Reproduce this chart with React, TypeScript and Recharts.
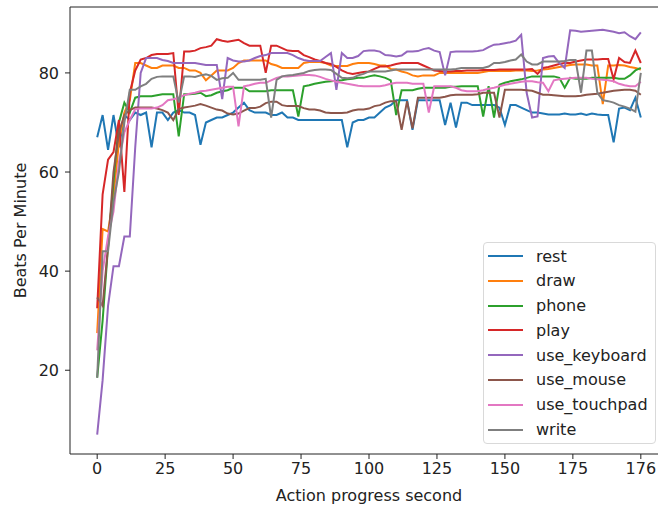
import { LineChart, Line, XAxis, YAxis, Legend, ReferenceLine } from "recharts";

// sampled every 2 seconds (axis position), last tick is labelled 176
const seconds = [
  0, 2, 4, 6, 8, 10, 12, 14, 16, 18,
  20, 22, 24, 26, 28, 30, 32, 34, 36, 38,
  40, 42, 44, 46, 48, 50, 52, 54, 56, 58,
  60, 62, 64, 66, 68, 70, 72, 74, 76, 78,
  80, 82, 84, 86, 88, 90, 92, 94, 96, 98,
  100, 102, 104, 106, 108, 110, 112, 114, 116, 118,
  120, 122, 124, 126, 128, 130, 132, 134, 136, 138,
  140, 142, 144, 146, 148, 150, 152, 154, 156, 158,
  160, 162, 164, 166, 168, 170, 172, 174, 176, 178,
  180, 182, 184, 186, 188, 190, 192, 194, 196, 198,
  200,
];

const rest = [
  67, 71.5, 64.5, 71.5, 65, 71.5, 70.5, 72, 71.5, 72,
  65, 72, 72, 70.5, 72, 72.5, 72, 72, 71.5, 65.5,
  70, 70.5, 71, 71, 71.5, 72, 73, 74, 72.5, 72,
  72, 72, 71.5, 71.5, 72, 71, 71, 70.5, 70.5, 70.5,
  70.5, 70.5, 70.5, 70.5, 70.5, 70.5, 65, 70, 70.5, 70.5,
  71, 71, 72, 73, 73.5, 74.5, 74.5, 74.5, 68.5, 74.5,
  74.5, 74.5, 74.5, 74.5, 69.5, 74, 69, 74, 74, 73.5,
  73.5, 73.5, 73.5, 73.5, 73, 69.5, 73.5, 73.5, 73, 72.5,
  72, 72, 71.8, 71.6, 71.6, 71.6, 71.8, 71.6, 71.6, 71.8,
  71.5, 71.8, 71.6, 71.5, 71.5, 66, 72.8, 73, 72.5, 75,
  71,
];

const draw = [
  27.5, 48.5, 48, 55, 66, 72, 74.5, 82, 82, 81.5,
  81, 81, 81.5, 81.5, 81.5, 81, 81, 80.5, 80.5, 80,
  78.5, 79.5, 80.5, 80.5, 80.5, 81, 82, 82.5, 82.5, 82.5,
  82.5, 82.5, 81.8, 81.5, 81, 81, 81, 81, 82, 82.2,
  82.2, 82.2, 82, 81.5, 81.4, 81.4, 81.4, 81.8, 82, 82,
  82, 81.8, 81.5, 81.5, 80.8, 80.7, 80.3, 80, 79.5, 79.3,
  79.5, 79.5, 79.5, 80, 80, 80, 80, 80, 80, 80,
  80, 80.2, 80.4, 80.4, 80.4, 80.4, 80.4, 80.5, 80.5, 80.5,
  80.4, 80.5, 80.7, 80.8, 81, 81.2, 81.4, 81.6, 81.7, 81.7,
  81.7, 81.5, 81.5, 73.7, 81.5, 81.5, 81.6, 81.5, 81.2, 81,
  80.7,
];

const phone = [
  18.5, 30, 45, 58, 70, 74, 72, 75, 75.3, 75.3,
  75.3, 75.5, 75.7, 75.7, 75.7, 67.2, 75.7, 75.7, 75.8, 76,
  75.3, 75.5, 76, 76.3, 76.5, 77, 77, 77, 76.3, 76.3,
  76.3, 76.3, 76.5, 76.5, 76.5, 76.5, 76.5, 71.2, 77.3, 77.5,
  77.8, 78, 78.2, 78.3, 78.4, 78.5, 78.7, 78.8, 79, 79,
  79.3, 79.5, 79.3, 79, 78.5, 71.5, 76.5, 76.5, 76.5, 76.8,
  77, 77, 77, 77, 77, 77.2, 77.2, 77.3, 77.3, 77.3,
  77.3, 71.2, 77.3, 71, 77.6, 78, 78.3, 78.5, 78.7, 79,
  79.3, 79.3, 79.3, 79.3, 79.3, 79, 77, 79, 78.8, 78.8,
  78.8, 79, 79, 79, 79, 79, 78.8, 78.8, 79.5, 80.5,
  81,
];

const play = [
  32.5, 55.5, 62.5, 64, 70.5, 56, 76, 80.5, 82.7, 83,
  83.6, 83.8, 83.8, 83.8, 84, 71.5, 84.3, 84.3, 84.5, 85,
  85.2, 85.5, 86.8, 86.5, 86.3, 86.5, 86.7, 86, 85.5, 85.5,
  85.5, 80, 85.5, 85.5, 85, 84.5, 84.4, 84.4, 83.6, 83.2,
  82.7, 82.4, 82, 81.8, 81.2, 80.5, 80, 79.8, 80, 80.2,
  80.3, 80.8, 81.3, 81.3, 81.5, 81.8, 82, 82, 82, 82,
  81.5, 81, 80.5, 80.4, 80.3, 80.3, 80.4, 80.4, 80.5, 80.5,
  80.5, 80.6, 80.6, 80.6, 80.7, 80.7, 80.7, 80.7, 80.7, 80.7,
  80.8, 79.8, 81, 81.2, 81.5, 81.8, 82, 82, 82.3, 82.5,
  82.7, 82.7, 82.7, 82.8, 82.8, 78.7, 83, 82.2, 82, 84.5,
  82,
];

const useKeyboard = [
  7, 18, 33, 41, 41, 47, 47, 65, 80, 83,
  83, 83, 82.6, 82.4, 82, 82, 82, 82, 82, 81.8,
  81.6, 81.6, 81.6, 74.7, 83, 82.5, 82.3, 82.3, 82.5, 83,
  83.4, 83.6, 84, 84, 84, 84, 83.6, 83, 82.6, 82.4,
  82.4, 82.4, 83.2, 84, 76.6, 84, 83, 83, 83.4, 84.4,
  84.5, 84.5, 84.3, 83.6, 83.5, 83.3, 83.5, 84.3, 84.3, 84.4,
  84.8, 85, 84.5, 84.2, 79.5, 84.2, 84.3, 84.3, 84.3, 84.3,
  84.4, 84.6, 85.2, 85.7, 85.8, 86, 86.2, 86.5, 87.7, 76,
  71, 71.2, 83, 83.3, 83.4, 82, 81, 88.6, 88.5, 88.3,
  88.4, 88.5, 88.6, 88.7, 88.5, 88.3, 88, 88.2, 87.4, 86.8,
  88.2,
];

const useMouse = [
  34.7, 33, 45, 60, 68, 71.5, 72.5, 73, 73, 73,
  73, 72.8, 72.5, 72, 70.5, 72.7, 73, 73.2, 73.4, 73.7,
  73.4, 73, 72.6, 72.4, 71.8, 71.6, 71.8, 72.4, 72.9, 72.9,
  73.2, 73.9, 74.2, 74.2, 73.5, 73.3, 73.3, 73.3, 72.9, 72.6,
  72.6, 72.4, 72, 71.9, 71.9, 71.9, 72, 72.4, 72.6, 72.6,
  72.8, 73.3, 73.5, 74, 74.3, 74.3, 68.5, 74.3, 68.8, 75,
  75, 75, 75, 75, 75.2, 75.5, 75.6, 75.6, 75.6, 75.6,
  75.7, 76, 76, 76, 71, 76.6, 76.6, 76.6, 76.6, 76.5,
  76.4, 76, 75.6, 75.6, 75.5, 75.4, 75.3, 75.3, 75.3, 75.4,
  75.6, 75.7, 75.8, 76, 76.2, 76.4, 76.5, 76.6, 76.6, 76.4,
  75.6,
];

const useTouchpad = [
  24, 40, 47, 52, 62, 68, 70.5, 72.7, 72.8, 72.8,
  72.8, 73, 73.5, 74.5, 74.7, 75, 75.5, 75.8, 76, 76.3,
  76.4, 76.6, 76.8, 77, 77.2, 77.2, 69.2, 77.3, 77.5, 77.8,
  78, 78, 78.5, 79, 79.3, 79.3, 79.4, 79.5, 79.6, 79.6,
  79.5, 79.2, 78.8, 78.5, 78.2, 78, 77.8, 77.6, 77.4, 77.3,
  77.3, 77.3, 77.3, 77.5, 77.8, 78, 78, 78, 77.8, 77.8,
  77.8, 72, 77.3, 77.3, 77.3, 77.3, 77, 76.5, 76.3, 76.3,
  76.3, 76.5, 76.8, 77, 77.3, 77.6, 77.8, 78, 78.2, 78.3,
  78.3, 78.1, 78, 76.3, 78.5, 78.7, 78.8, 78.9, 79, 79,
  79, 78.8, 78.7, 78.6, 78.5, 78.3, 77.8, 77.5, 77.3, 77.3,
  78.2,
];

const write = [
  18.5, 44, 44, 54, 60, 70, 76.6, 76.6, 77.3, 77.8,
  78.8, 79.2, 79.3, 79.3, 79.3, 74, 79.3, 79.3, 79.2, 79.5,
  79.7, 79.4, 78.6, 78.9, 79, 80, 78.6, 78.6, 78.6, 78.6,
  78.6, 78.8, 71, 78.6, 79.3, 79.5, 79.6, 79.8, 80, 80.4,
  80.6, 80.7, 80.7, 80.6, 79.8, 79, 78.9, 79, 79.5, 79.8,
  80.3, 80.3, 80.3, 80.3, 80.5, 80.7, 80.7, 80.7, 80.7, 80.7,
  80.7, 80.7, 80.7, 80.7, 80.7, 80.7, 80.8, 81, 81, 81,
  81, 81, 81.3, 82, 82, 82.2, 82.5, 82.7, 83.7, 82.3,
  81.7, 81.7, 82.3, 82.3, 82.3, 82.3, 82.4, 82.6, 82.6, 76,
  84.5, 84.5, 76, 74.5, 74.3, 74, 73.5, 73.2, 72.8, 72.2,
  80,
];

const xTicks = [0, 25, 50, 75, 100, 125, 150, 175, 200];
const xTickLabels = ["0", "25", "50", "75", "100", "125", "150", "175", "176"];
const yTicks = [20, 40, 60, 80];

const seriesNames = ["rest", "draw", "phone", "play", "use_keyboard", "use_mouse", "use_touchpad", "write"];
const seriesValues = [rest, draw, phone, play, useKeyboard, useMouse, useTouchpad, write];
const colors = ["#1f77b4", "#ff7f0e", "#2ca02c", "#d62728", "#9467bd", "#8c564b", "#e377c2", "#7f7f7f"];

const data = seconds.map((s, i) => {
  const row: Record<string, number> = { s };
  seriesNames.forEach((name, j) => {
    row[name] = seriesValues[j][i];
  });
  return row;
});

const font = "DejaVu Sans, sans-serif";
const FS = 16;
const Y_MIN = 3.1;
const Y_MAX = 93.3;

// legend keeps the plotting order, like the original
const renderLegend = () => (
  <div
    style={{
      boxSizing: "border-box",
      width: 173,
      background: "rgba(255,255,255,0.8)",
      border: "1px solid #d9d9d9",
      borderRadius: 4,
      padding: "4px 4px",
      fontFamily: font,
      fontSize: FS,
      color: "#222",
    }}
  >
    {seriesNames.map((name, i) => (
      <div
        key={name}
        style={{ display: "flex", alignItems: "center", height: 18, marginTop: i === 0 ? 0 : 6.8, whiteSpace: "nowrap" }}
      >
        <span style={{ display: "inline-block", width: 35, height: 2, background: colors[i], marginRight: 13 }} />
        <span>{name}</span>
      </div>
    ))}
  </div>
);

export default function App() {
  return (
    <div style={{ position: "absolute", left: 0, top: 0, width: 658, height: 510, overflow: "hidden", background: "#fff" }}>
      <LineChart width={668} height={510} data={data} margin={{ top: 7, right: 0, bottom: 0, left: 0 }}>
        <XAxis
          dataKey="s"
          type="number"
          domain={[-10, 210]}
          ticks={xTicks}
          tickFormatter={(v: number) => xTickLabels[xTicks.indexOf(v)]}
          height={56}
          stroke="#222"
          tickSize={5}
          tickMargin={4}
          tick={{ fill: "#222", fontSize: FS, fontFamily: font }}
          label={{ value: "Action progress second", position: "insideBottom", offset: 9, fill: "#222", fontSize: FS, fontFamily: font }}
        />
        <YAxis
          type="number"
          domain={[Y_MIN, Y_MAX]}
          ticks={yTicks}
          width={70}
          stroke="#222"
          tickSize={5}
          tickMargin={6}
          tick={{ fill: "#222", fontSize: FS, fontFamily: font }}
          label={{
            value: "Beats Per Minute",
            angle: -90,
            position: "insideLeft",
            offset: 20,
            fill: "#222",
            fontSize: FS,
            fontFamily: font,
            style: { textAnchor: "middle" },
          }}
        />
        <ReferenceLine y={Y_MAX} stroke="#222" />
        {seriesNames.map((name, i) => (
          <Line
            key={name}
            type="linear"
            dataKey={name}
            name={name}
            stroke={colors[i]}
            strokeWidth={2}
            dot={false}
            isAnimationActive={false}
          />
        ))}
        <Legend
          layout="vertical"
          align="center"
          verticalAlign="middle"
          content={renderLegend}
          wrapperStyle={{ left: 483, top: 242, width: 173 }}
        />
      </LineChart>
    </div>
  );
}
